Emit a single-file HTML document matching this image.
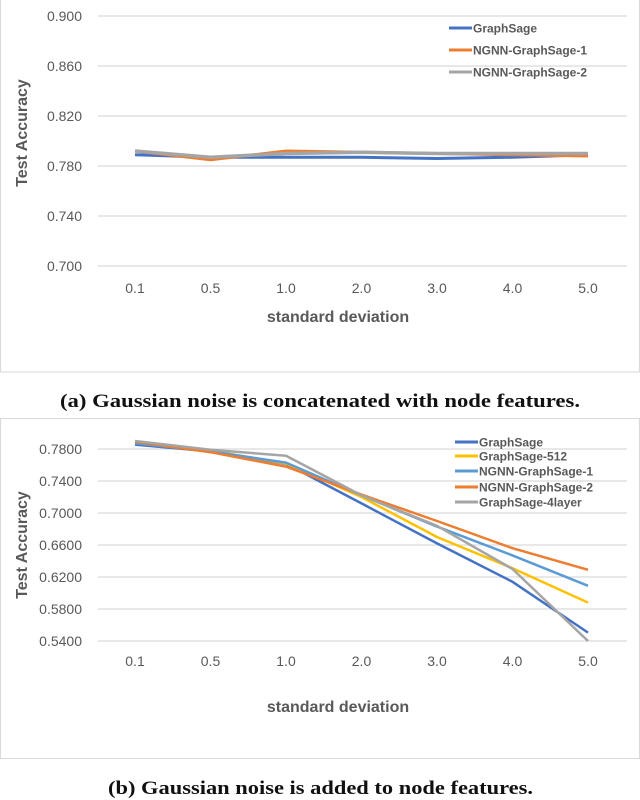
<!DOCTYPE html>
<html><head><meta charset="utf-8"><style>
body{margin:0;background:#fff;width:640px;height:800px;overflow:hidden}
svg{display:block}
</style></head><body>
<svg id="s" width="640" height="800" xmlns="http://www.w3.org/2000/svg" font-family="'Liberation Sans', sans-serif">
<rect x="0.5" y="-1" width="639" height="373" fill="#fff" stroke="#d9d9d9"/>
<rect x="0.5" y="418.5" width="639" height="340" fill="#fff" stroke="#d9d9d9"/>
<text x="60" y="407" textLength="520" lengthAdjust="spacingAndGlyphs" font-family="'Liberation Serif', serif" font-weight="bold" font-size="19" fill="#111">(a) Gaussian noise is concatenated with node features.</text>
<text x="108" y="794" textLength="425" lengthAdjust="spacingAndGlyphs" font-family="'Liberation Serif', serif" font-weight="bold" font-size="19" fill="#111">(b) Gaussian noise is added to node features.</text>
</svg>
<script>
const categories=["0.1","0.5","1.0","2.0","3.0","4.0","5.0"];
const aTicks=[0.700,0.740,0.780,0.820,0.860,0.900];
const aNames=["GraphSage","NGNN-GraphSage-1","NGNN-GraphSage-2"];
const aGraphSage=[0.789,0.787,0.787,0.787,0.786,0.787,0.789];
const aNgnn1=[0.792,0.785,0.792,0.791,0.790,0.789,0.788];
const aNgnn2=[0.792,0.787,0.790,0.791,0.790,0.790,0.790];
const bTicks=[0.54,0.58,0.62,0.66,0.70,0.74,0.78];
const bNames=["GraphSage","GraphSage-512","NGNN-GraphSage-1","NGNN-GraphSage-2","GraphSage-4layer"];
const bGraphSage=[0.7854,0.777,0.7616,0.712,0.662,0.614,0.5505];
const b512=[0.788,0.778,0.762,0.720,0.670,0.631,0.588];
const bNgnn1=[0.787,0.777,0.763,0.722,0.683,0.647,0.609];
const bNgnn2=[0.789,0.776,0.758,0.723,0.690,0.656,0.629];
const b4layer=[0.790,0.779,0.7716,0.722,0.684,0.630,0.540];

const NS="http://www.w3.org/2000/svg";
const svg=document.getElementById('s');
function mk(tag,attrs,parent){const e=document.createElementNS(NS,tag);for(const k in attrs)e.setAttribute(k,attrs[k]);(parent||svg).appendChild(e);return e;}
const xAt=i=>135+i*75.5;

function chart(cfg){
  const g=mk('g',{});
  
  
  const y=v=>cfg.y0-(v-cfg.v0)*cfg.k;
  cfg.ticks.forEach(t=>{
    const l=mk('line',{x1:98,x2:627,y1:y(t),y2:y(t),stroke:'#d9d9d9','stroke-width':1.2},g);
    
    
    const tx=mk('text',{x:82,y:y(t)+5,'text-anchor':'end','font-size':14,fill:'#595959'},g);
    tx.textContent=t.toFixed(cfg.dec);
    
    
  });
  categories.forEach((c,i)=>{
    const tx=mk('text',{x:xAt(i),y:cfg.xly,'text-anchor':'middle','font-size':14,fill:'#595959'},g);
    tx.textContent=c;
    
    
  });
  const yt=mk('text',{x:0,y:0,transform:`translate(27,${cfg.ytY}) rotate(-90)`,'text-anchor':'middle','font-size':16,'font-weight':'bold',fill:'#595959'},g);
  yt.textContent='Test Accuracy';
  
  
  const xt=mk('text',{x:338,y:cfg.xtY,'text-anchor':'middle','font-size':16,'font-weight':'bold',fill:'#595959'},g);
  xt.textContent='standard deviation';
  
  
  cfg.series.forEach((s,si)=>{
    const p=mk('polyline',{points:s.map((v,i)=>xAt(i)+','+y(v)).join(' '),fill:'none',stroke:cfg.colors[si],'stroke-width':cfg.sw[si],'stroke-linejoin':'round'},g);
    
    
  });
  cfg.names.forEach((n,i)=>{
    const ly=cfg.legY[i];
    const l=mk('line',{x1:cfg.legX,x2:cfg.legX+23,y1:ly,y2:ly,stroke:cfg.colors[i],'stroke-width':3},g);
    
    
    const t=mk('text',{x:cfg.legX+24,y:ly+4.5,'font-size':12,'font-weight':'bold',fill:'#595959'},g);
    t.textContent=n;
    
    
  });
}
chart({id:'chart-a',y0:266,v0:0.700,k:1250,ticks:aTicks,dec:3,xly:293,ytY:133,xtY:322,
  names:aNames,series:[aGraphSage,aNgnn1,aNgnn2],colors:['#4472c4','#ed7d31','#a5a5a5'],sw:[3,3,3.5],
  legX:449,legY:[28,50,72]});
chart({id:'chart-b',y0:641,v0:0.54,k:800,ticks:bTicks,dec:4,xly:666,ytY:545,xtY:712,
  names:bNames,series:[bGraphSage,b512,bNgnn1,bNgnn2,b4layer],colors:['#4472c4','#ffc000','#5b9bd5','#ed7d31','#a5a5a5'],sw:[2.5,2.5,2.5,2.5,2.5],
  legX:455,legY:[442,456,471,487,502]});
</script>
</body></html>
